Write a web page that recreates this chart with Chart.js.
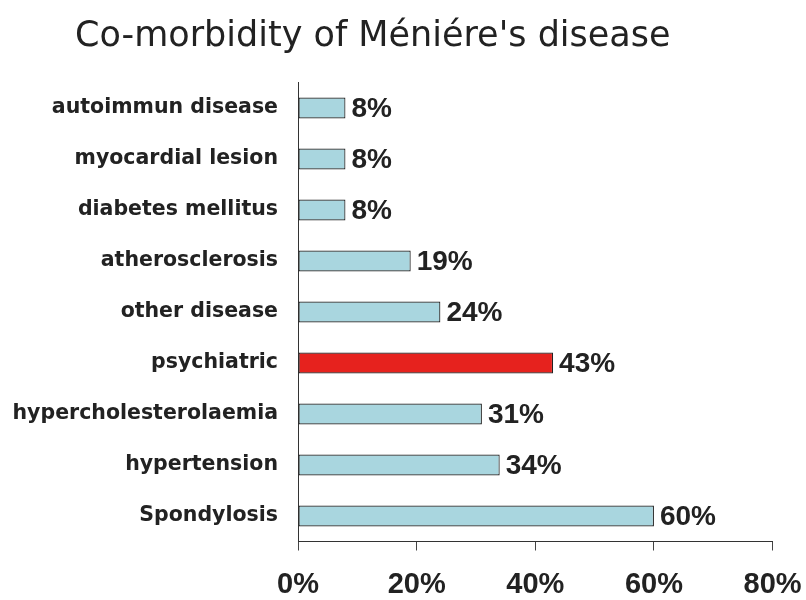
<!DOCTYPE html>
<html>
<head>
<meta charset="utf-8">
<script src="https://cdn.jsdelivr.net/npm/chart.js@4.4.1/dist/chart.umd.min.js"></script>
<style>
  html, body { margin: 0; padding: 0; background: #ffffff; }
  #wrap { width: 806px; height: 600px; position: relative; }
</style>
</head>
<body>
<div id="wrap"><canvas id="c" width="806" height="600"></canvas></div>
<script>
const chartTitle = "Co-morbidity of Méniére's disease";
const categories = [
  "autoimmun disease",
  "myocardial lesion",
  "diabetes mellitus",
  "atherosclerosis",
  "other disease",
  "psychiatric",
  "hypercholesterolaemia",
  "hypertension",
  "Spondylosis"
];
const values = [8, 8, 8, 19, 24, 43, 31, 34, 60];
const highlighted = ["psychiatric"];
const xTicks = [0, 20, 40, 60, 80];

const blueFill = '#a9d6df';
const redFill = '#e6221e';

const titlePlugin = {
  id: 'leftTitle',
  afterDraw(chart) {
    const ctx = chart.ctx;
    ctx.save();
    ctx.font = '35px "DejaVu Sans", sans-serif';
    ctx.fillStyle = '#222222';
    ctx.textAlign = 'left';
    ctx.textBaseline = 'alphabetic';
    ctx.fillText(chartTitle, 75, 46);
    ctx.restore();
  }
};

const valueLabels = {
  id: 'valueLabels',
  afterDatasetsDraw(chart) {
    const ctx = chart.ctx;
    const meta = chart.getDatasetMeta(0);
    ctx.save();
    ctx.font = 'bold 28px "Liberation Sans", Arial, sans-serif';
    ctx.fillStyle = '#222222';
    ctx.textAlign = 'left';
    ctx.textBaseline = 'middle';
    meta.data.forEach((bar, i) => {
      ctx.fillText(values[i] + '%', bar.x + 6, bar.y + 1);
    });
    ctx.restore();
  }
};

new Chart(document.getElementById('c'), {
  type: 'bar',
  data: {
    labels: categories,
    datasets: [{
      data: values,
      backgroundColor: categories.map(c => highlighted.includes(c) ? redFill : blueFill),
      borderColor: '#222222',
      borderWidth: 1.2,
      borderSkipped: false,
      categoryPercentage: 1.0,
      barPercentage: 0.41
    }]
  },
  options: {
    indexAxis: 'y',
    responsive: false,
    animation: false,
    layout: { padding: { top: 82.5, right: 33.4, left: 0, bottom: 0 } },
    plugins: {
      legend: { display: false },
      title: { display: false },
      tooltip: { enabled: false }
    },
    scales: {
      x: {
        min: 0,
        max: 80,
        afterBuildTicks(scale) { scale.ticks = xTicks.map(v => ({ value: v })); },
        afterFit(scale) {
          scale.height = 58.5;
          scale.paddingLeft = 0;
          scale.paddingRight = 0;
        },
        grid: {
          display: true,
          drawOnChartArea: false,
          drawTicks: true,
          tickLength: 9,
          color: '#444444',
          lineWidth: 1
        },
        border: { display: true, color: '#333333', width: 1 },
        ticks: {
          callback: v => v + '%',
          color: '#222222',
          padding: 17,
          maxRotation: 0,
          font: { family: '"Liberation Sans", Arial, sans-serif', size: 29, weight: 'bold' }
        }
      },
      y: {
        afterFit(scale) { scale.width = 298; },
        grid: { display: false, drawTicks: false },
        border: { display: true, color: '#333333', width: 1 },
        ticks: {
          color: '#222222',
          padding: 20,
          font: { family: '"DejaVu Sans", sans-serif', size: 20.5, weight: 'bold' }
        }
      }
    }
  },
  plugins: [valueLabels, titlePlugin]
});
</script>
</body>
</html>
